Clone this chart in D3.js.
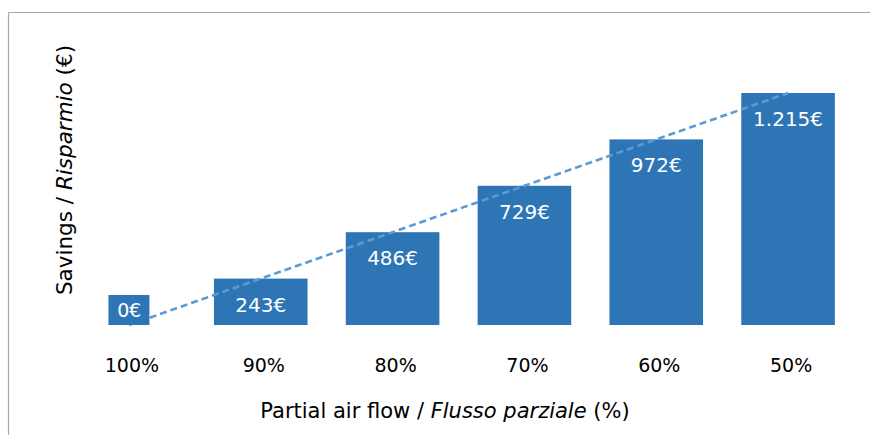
<!DOCTYPE html>
<html>
<head>
<meta charset="utf-8">
<script src="https://cdn.jsdelivr.net/npm/d3@7"></script>
<style>
  html, body { margin: 0; padding: 0; background: #fff; }
  svg { display: block; }
  text { font-family: "DejaVu Sans", "Noto Sans", sans-serif; }
</style>
</head>
<body>
<svg id="chart" width="870" height="435"></svg>
<script>
// Partial air flow steps and the yearly savings at each step
const categories = ["100%", "90%", "80%", "70%", "60%", "50%"];
const savings = [0, 243, 486, 729, 972, 1215];
const valueLabels = ["0€", "243€", "486€", "729€", "972€", "1.215€"];

const width = 870, height = 435;
const font = "\"DejaVu Sans\", \"Noto Sans\", sans-serif";
const svg = d3.select("#chart");

// frame: top and left rules
svg.append("line").attr("x1", 8.5).attr("x2", width).attr("y1", 12.5).attr("y2", 12.5)
  .attr("stroke", "#a6a6a6").attr("stroke-width", 1.2);
svg.append("line").attr("x1", 8.5).attr("x2", 8.5).attr("y1", 12.5).attr("y2", height)
  .attr("stroke", "#a6a6a6").attr("stroke-width", 1.2);

const x = d3.scaleBand().domain(categories).range([63, 854]).paddingInner(0.29).paddingOuter(0.145);
const y = d3.scaleLinear().domain([0, 1215]).range([325, 93]);

const barColor = "#2e75b6";

// bars
svg.append("g").selectAll("rect").data(savings).join("rect")
  .attr("x", (d, i) => x(categories[i]))
  .attr("y", d => y(d))
  .attr("width", x.bandwidth())
  .attr("height", d => y(0) - y(d))
  .attr("fill", barColor);

// linear trend through the savings values
const line = d3.line()
  .x((d, i) => x(categories[i]) + x.bandwidth() / 2)
  .y(d => y(d));
svg.append("path").datum(savings)
  .attr("d", line)
  .attr("fill", "none")
  .attr("stroke", "#5b9bd5")
  .attr("stroke-width", 2.6)
  .attr("stroke-dasharray", "7,4");

// value labels inside the top of each bar; zero value gets a filled box
const labels = svg.append("g");
savings.forEach((v, i) => {
  const cx = x(categories[i]) + x.bandwidth() / 2;
  if (v === 0) {
    labels.append("rect")
      .attr("x", cx - 20.5).attr("y", y(0) - 30)
      .attr("width", 41).attr("height", 30)
      .attr("fill", barColor);
    labels.append("text")
      .attr("x", cx).attr("y", y(0) - 8)
      .attr("text-anchor", "middle").attr("fill", "#fff").attr("font-size", 19)
      .attr("letter-spacing", -0.5)
      .text(valueLabels[i]);
  } else {
    labels.append("text")
      .attr("x", cx).attr("y", y(v) + 33)
      .attr("text-anchor", "middle").attr("fill", "#fff").attr("font-size", 20)
      .text(valueLabels[i]);
  }
});

// category axis labels
const xAxis = d3.axisBottom(x).tickSize(0).tickPadding(0);
const gx = svg.append("g").attr("transform", "translate(3,372)").call(xAxis);
gx.select(".domain").remove();
gx.selectAll("text").attr("font-size", 19).attr("fill", "#000").attr("dy", 0)
  .attr("font-family", font);

// axis titles
const xt = svg.append("text").attr("x", 445).attr("y", 418)
  .attr("text-anchor", "middle").attr("font-size", 21).attr("fill", "#000");
xt.append("tspan").text("Partial air flow / ");
xt.append("tspan").attr("font-style", "italic").text("Flusso parziale");
xt.append("tspan").text(" (%)");

const yt = svg.append("text")
  .attr("transform", "translate(72,170) rotate(-90)")
  .attr("text-anchor", "middle").attr("font-size", 21.5).attr("fill", "#000");
yt.append("tspan").text("Savings / ");
yt.append("tspan").attr("font-style", "italic").text("Risparmio");
yt.append("tspan").text(" (€)");
</script>
</body>
</html>
